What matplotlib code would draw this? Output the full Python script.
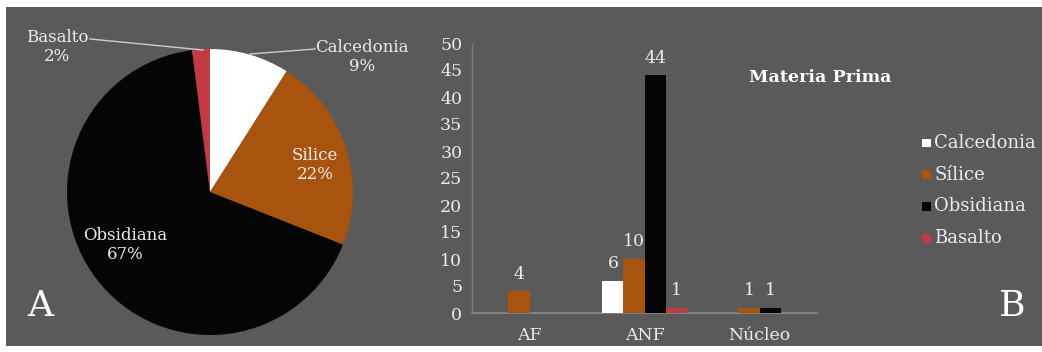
import matplotlib
matplotlib.use("Agg")
import matplotlib.pyplot as plt
from matplotlib.patches import Rectangle
import numpy as np

# Raw-material counts by artefact class
categories = ["AF", "ANF", "Núcleo"]
materials = ["Calcedonia", "Sílice", "Obsidiana", "Basalto"]
calcedonia = [0, 6, 0]
silice = [4, 10, 1]
obsidiana = [0, 44, 1]
basalto = [0, 1, 0]

# Overall share of each raw material (percent)
pie_labels = ["Calcedonia", "Silice", "Obsidiana", "Basalto"]
pie_shares = [9, 22, 67, 2]

colors = ["#ffffff", "#a8540f", "#050505", "#c23a44"]
bg = "#5a5a5a"
txt = "#ececec"
serif = ["DejaVu Serif"]

W, H = 1042, 352
fig = plt.figure(figsize=(W / 100, H / 100), dpi=100, facecolor="white")
fig.patches.append(Rectangle((6 / W, 6 / H), 1 - 6 / W, 1 - 13 / H,
                             transform=fig.transFigure, facecolor=bg,
                             edgecolor="none", zorder=-10))

def fx(px):
    return px / W

def fy(py):
    return 1 - py / H

# ---- Panel A: pie of overall shares ----
cx, cy, r = 210, 192, 143
axp = fig.add_axes([fx(cx - r), fy(cy + r), 2 * r / W, 2 * r / H])
axp.pie(pie_shares, colors=colors, startangle=90, counterclock=False,
        radius=1, wedgeprops=dict(edgecolor="none"))
axp.set_xlim(-1, 1)
axp.set_ylim(-1, 1)
axp.set_aspect("auto")
axp.axis("off")

def pd(px, py):
    return ((px - cx) / r, (cy - py) / r)

lab_kw = dict(fontsize=12, family=serif, color=txt, ha="center", va="center",
              linespacing=1.15)
label_pos = [(362, 57), (315, 165), (125, 245), (57, 47)]
for name, share, (px, py) in zip(pie_labels, pie_shares, label_pos):
    axp.text(*pd(px, py), f"{name}\n{share}%", **lab_kw)
axp.plot(*zip(pd(315, 49), pd(250, 54)), color="#cfcfcf", lw=1, clip_on=False)
axp.plot(*zip(pd(90, 39), pd(203, 50)), color="#cfcfcf", lw=1, clip_on=False)

fig.text(fx(40), fy(306), "A", fontsize=26, family=serif, color="white",
         ha="center", va="center")

# ---- Panel B: grouped bars ----
series = [calcedonia, silice, obsidiana, basalto]
axb = fig.add_axes([fx(472), fy(313), (817 - 472) / W, (313 - 43) / H])
axb.set_facecolor("none")
x = np.arange(len(categories))
w = 0.183
for i, (vals, c) in enumerate(zip(series, colors)):
    pos = x + (i - 1.5) * w
    bars = axb.bar(pos, vals, width=w, color=c, edgecolor="none", zorder=3)
    for b, v in zip(bars, vals):
        if v > 0:
            axb.annotate(str(v), (b.get_x() + b.get_width() / 2, v),
                         xytext=(0, 12.5), textcoords="offset points",
                         ha="center", va="center", fontsize=12.5,
                         family=serif, color=txt)
axb.set_xlim(-0.5, 2.5)
axb.set_ylim(0, 50)
axb.set_yticks(range(0, 51, 5))
axb.set_xticks(x)
axb.set_xticklabels(categories)
axb.tick_params(length=0, colors=txt, labelsize=12.5, pad=7)
axb.tick_params(axis="x", pad=10)
for lab in axb.get_xticklabels() + axb.get_yticklabels():
    lab.set_family(serif)
for s in ["top", "right"]:
    axb.spines[s].set_visible(False)
axb.spines["left"].set_color("#7a7a7a")
axb.spines["bottom"].set_color("#8a8a8a")
axb.spines["left"].set_linewidth(1)
axb.spines["bottom"].set_linewidth(1.2)

fig.text(fx(820), fy(77), "Materia Prima", fontsize=12.6, family=serif,
         weight="bold", color="white", ha="center", va="center")

# legend
for i, (name, c) in enumerate(zip(materials, colors)):
    yy = 143 + i * 31.7
    fig.patches.append(Rectangle((fx(922), fy(yy + 4.5)), 9 / W, 9 / H,
                                 transform=fig.transFigure, facecolor=c,
                                 edgecolor="none", zorder=3))
    fig.text(fx(934), fy(yy), name, fontsize=13, family=serif, color=txt,
             ha="left", va="center")

fig.text(fx(1012), fy(306), "B", fontsize=26, family=serif, color="white",
         ha="center", va="center")

fig.savefig("out.png", dpi=100, facecolor=fig.get_facecolor())
